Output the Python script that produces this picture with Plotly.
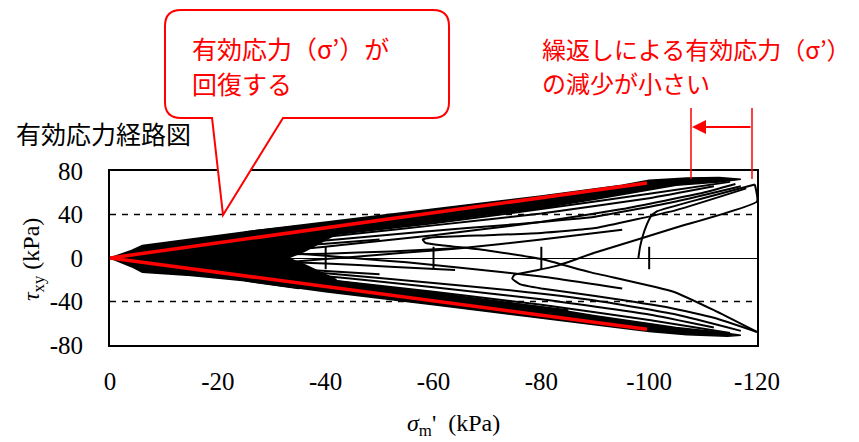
import plotly.graph_objects as go

# ---- data (sigma_m' in kPa, tau_xy in kPa) ----
x_ticks = [0, -20, -40, -60, -80, -100, -120]
y_ticks = [-80, -40, 0, 40, 80]

# dense black zone near the origin
core_sigma = [0, -4, -6, -15, -25, -35, -42, -36, -33, -36, -42, -35, -25, -15, -6, -4, 0]
core_tau = [0, 7, 11.5, 17.5, 24, 29.5, 22, 6, 0, -6, -20, -28, -21, -16, -13, -8, 0]

# dense black band along the upper envelope
upper_band_sigma = [-25, -40, -60, -80, -95, -100, -107, -113, -117,
                    -113, -105, -100, -90, -80, -60, -40, -25]
upper_band_tau = [24, 33, 44.5, 57, 67, 71.5, 73.5, 74, 72.5,
                  70, 67, 62.5, 54, 46, 33, 21, 15]

# dense black band along the lower envelope
lower_band_sigma = [-25, -40, -60, -80, -95, -100, -107, -114.5, -117,
                    -112, -105, -100, -90, -80, -60, -40, -25]
lower_band_tau = [-21, -31, -43, -55, -64, -67.5, -70.5, -72, -71,
                  -67.5, -64, -60.5, -53, -45, -32, -20, -14]

# individual stress paths
path1_sigma = [-98, -98.3, -98.8, -99.5, -100.3, -101.5, -110, -119.6]
path1_tau = [0, 10, 20, 30, 38, 43, 55, 67.5]

path2_sigma = [-119.6, -120, -105, -90, -83, -78, -75, -74.6, -76, -80, -90, -104, -112, -120]
path2_tau = [67.5, 52, 28, 5, -7, -12.5, -15.5, -19, -24, -28, -35, -46, -55, -68]

path3_sigma = [-120, -112, -104.5, -89, -80, -70, -62, -58.5, -58, -60, -70, -80, -90, -105, -118]
path3_tau = [-68, -48, -31, -13, -1, 7, 11.5, 14, 17, 19, 21, 23, 27.5, 44, 64]

path4_sigma = [-20, -40, -60, -80, -100, -115]
path4_tau = [12, 21, 32, 45, 59, 70]

path5_sigma = [-22, -40, -57.5, -75, -90, -105, -117]
path5_tau = [9, 16, 24, 31, 38, 52, 66]

path6_sigma = [-25, -39, -60, -79.8, -95, -110, -116]
path6_tau = [5, 10, 21, 33, 45, 60, 68]

path7_sigma = [-20, -40, -60, -80, -100, -115]
path7_tau = [-11, -20, -31, -43, -57, -69]

path8_sigma = [-22, -40, -60, -75, -90, -105, -117]
path8_tau = [-8, -14, -23, -30, -39, -52, -67]

path9_sigma = [-25, -35, -45, -55, -65, -80, -95]
path9_tau = [7, 4, 0, -4, -9, -17, -28]

path10_sigma = [-25, -35, -45, -55, -65, -80, -95]
path10_tau = [-6, -3, 1, 5, 9, 17, 26]

path11_sigma = [-30, -45, -60, -80, -100, -112]
path11_tau = [14, 22, 30, 41, 55, 66]

path12_sigma = [-30, -45, -60, -80, -100, -112]
path12_tau = [-12, -19, -27, -38, -52, -64]

path13_sigma = [-28, -40, -52, -64]
path13_tau = [3, 4, 6, 9]

path14_sigma = [-28, -40, -52, -64]
path14_tau = [-3, -5, -8, -11]

path15_sigma = [-30, -42, -55, -70, -85]
path15_tau = [19, 26, 33, 42, 52]

path16_sigma = [-30, -42, -55, -70, -85]
path16_tau = [-17, -24, -31, -39, -48]

path17_sigma = [-30, -40, -50]
path17_tau = [10, 13, 17]

path18_sigma = [-30, -40, -50]
path18_tau = [-9, -12, -15]

# small vertical marks on the zero line
mark_sigma = [-40, -60, -80, -100]
mark_tau = [0, 0, 0, 0]

# red envelope lines
red_upper_sigma = [0, -99.6]
red_upper_tau = [0, 69]
red_lower_sigma = [0, -99.6]
red_lower_tau = [0, -65.5]

# ---- geometry: reference pixels; page body adds an 8px offset ----
OFF = 8
W, H = 859 - OFF, 442 - OFF
L, R, T, B = 110, 757, 171, 345


def px(x):
    return (x - L) / (R - L)


def py(y):
    return (B - y) / (B - T)


fig = go.Figure()

for s, t in [(core_sigma, core_tau), (upper_band_sigma, upper_band_tau),
             (lower_band_sigma, lower_band_tau)]:
    fig.add_trace(go.Scatter(x=s, y=t, mode='lines', fill='toself',
                             fillcolor='black', line=dict(color='black', width=1.5),
                             hoverinfo='skip'))

paths = [(path1_sigma, path1_tau), (path2_sigma, path2_tau), (path3_sigma, path3_tau),
         (path4_sigma, path4_tau), (path5_sigma, path5_tau), (path6_sigma, path6_tau),
         (path7_sigma, path7_tau), (path8_sigma, path8_tau), (path9_sigma, path9_tau),
         (path10_sigma, path10_tau), (path11_sigma, path11_tau), (path12_sigma, path12_tau),
         (path13_sigma, path13_tau), (path14_sigma, path14_tau),
         (path15_sigma, path15_tau), (path16_sigma, path16_tau),
         (path17_sigma, path17_tau), (path18_sigma, path18_tau)]
for s, t in paths:
    fig.add_trace(go.Scatter(x=s, y=t, mode='lines',
                             line=dict(color='black', width=2, shape='spline', smoothing=0.4),
                             hoverinfo='skip'))

fig.add_trace(go.Scatter(x=mark_sigma, y=mark_tau, mode='markers',
                         marker=dict(symbol='line-ns', size=16,
                                     line=dict(color='black', width=2)),
                         hoverinfo='skip'))

for s, t in [(red_upper_sigma, red_upper_tau), (red_lower_sigma, red_lower_tau)]:
    fig.add_trace(go.Scatter(x=s, y=t, mode='lines',
                             line=dict(color='#ff0000', width=3.5), hoverinfo='skip'))

# dashed +/-40 lines
for yv in [40, -40]:
    fig.add_hline(y=yv, line=dict(color='black', width=1.5, dash='6px,6px'), layer='below')

# callout balloon
r = 16
bx0, bx1, by0, by1 = 165, 449, 10, 118
pts = [
    ('M', bx0 + r, by0), ('L', bx1 - r, by0), ('Q', bx1, by0, bx1, by0 + r),
    ('L', bx1, by1 - r), ('Q', bx1, by1, bx1 - r, by1), ('L', 283, by1),
    ('L', 223, 215), ('L', 212, by1), ('L', bx0 + r, by1),
    ('Q', bx0, by1, bx0, by1 - r), ('L', bx0, by0 + r), ('Q', bx0, by0, bx0 + r, by0),
]
path = ''
for p in pts:
    cmd = p[0]
    coords = p[1:]
    parts = []
    for i in range(0, len(coords), 2):
        parts.append(f'{px(coords[i]):.4f},{py(coords[i + 1]):.4f}')
    path += cmd + ' '.join(parts) + ' '
path += 'Z'
fig.add_shape(type='path', path=path, xref='paper', yref='paper',
              fillcolor='white', line=dict(color='#ff0000', width=2), layer='above')

jp = 'Noto Sans CJK JP'
serif = 'Liberation Serif'
red = '#ff0000'


def label(text, x, y, size, color, family=jp, xanchor='left', angle=0):
    fig.add_annotation(text=text, x=px(x), y=py(y), xref='paper', yref='paper',
                       xanchor=xanchor, yanchor='middle', showarrow=False,
                       textangle=angle, font=dict(family=family, size=size, color=color))


label('有効応力（σ’）が', 190, 48, 25, red)
label('回復する', 190, 83, 25, red)
label('繰返しによる有効応力（σ’）', 540, 48, 24, red)
label('の減少が小さい', 540, 83, 24, red)

# red range marker with arrow
for xv, y_end in [(691, 179), (752, 179)]:
    fig.add_shape(type='line', xref='paper', yref='paper', x0=px(xv), x1=px(xv),
                  y0=py(108), y1=py(y_end), line=dict(color=red, width=1.5))
fig.add_annotation(x=px(692), y=py(127), xref='paper', yref='paper', text='',
                   showarrow=True, ax=60, ay=0, arrowhead=2, arrowsize=1.4,
                   arrowwidth=2, arrowcolor=red, standoff=0)

# chart title and axis titles
label('有効応力経路図', 14, 133, 25, 'black')
label('<i>τ</i><sub>xy</sub> (kPa)', 33, 260, 24, 'black', family=serif,
      xanchor='center', angle=-90)
label("<i>σ</i><sub>m</sub>'  (kPa)", 453, 425, 24, 'black', family=serif,
      xanchor='center')

axis_common = dict(showline=True, mirror=True, linecolor='black', linewidth=2,
                   showgrid=False, ticks='outside', tickcolor='rgba(0,0,0,0)',
                   automargin=False,
                   tickfont=dict(family=serif, size=25, color='black'))
fig.update_layout(
    width=W, height=H,
    margin=dict(l=L - OFF, r=W - (R - OFF), t=T - OFF, b=H - (B - OFF), pad=0),
    paper_bgcolor='white', plot_bgcolor='white',
    showlegend=False,
    xaxis=dict(range=[0, -120], tickvals=x_ticks, ticktext=[str(v) for v in x_ticks],
               ticklen=13, zeroline=False, **axis_common),
    yaxis=dict(range=[-80, 80], tickvals=y_ticks, ticktext=[str(v) for v in y_ticks],
               ticklen=20, zeroline=True, zerolinecolor='black', zerolinewidth=1,
               **axis_common),
)

fig.write_html('out.html')
